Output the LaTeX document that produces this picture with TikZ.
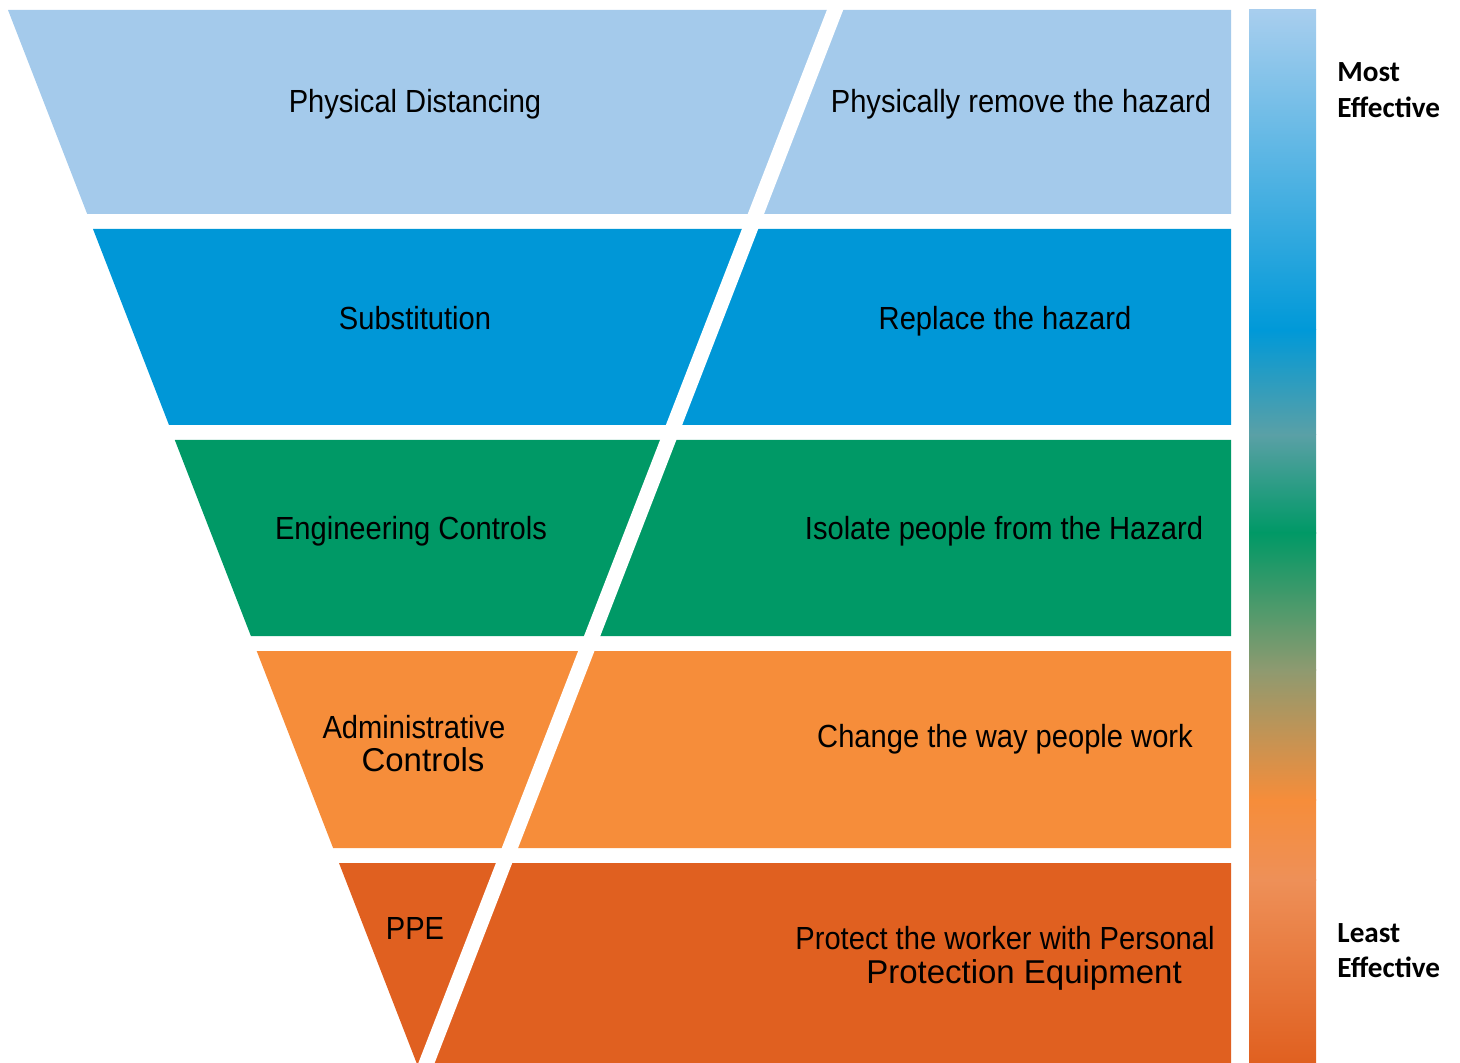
\documentclass[tikz,border=0pt]{standalone}
\usepackage{fontspec}
\setmainfont{Liberation Sans}
\newfontfamily\narrowf[FakeStretch=0.91]{Liberation Sans}
\newfontfamily\calib{Carlito}
\definecolor{cA}{HTML}{A4CAEB}
\definecolor{cB}{HTML}{0097D7}
\definecolor{cC}{HTML}{009966}
\definecolor{cD}{HTML}{F68D3A}
\definecolor{cE}{HTML}{E06020}
\definecolor{gA}{HTML}{A8CEEE}
\definecolor{gB}{HTML}{0099D8}
\definecolor{gT}{HTML}{5AA0A6}
\definecolor{gC}{HTML}{009966}
\definecolor{gO}{HTML}{8E9A70}
\definecolor{gD}{HTML}{F68D3A}
\definecolor{gL}{HTML}{EE9058}
\definecolor{gE}{HTML}{E06020}
\tikzset{
  lbl/.style={anchor=base, inner sep=0pt, text=black, font=\narrowf\fontsize{16}{19}\selectfont},
  lbltwo/.style={anchor=base, inner sep=0pt, text=black, font=\fontsize{16.5}{20}\selectfont},
  eff/.style={anchor=base west, inner sep=0pt, text=black, font=\calib\bfseries\fontsize{14.6}{17}\selectfont},
  gap/.style={white, line width=7.6pt}
}
\begin{document}
\begin{tikzpicture}[x=0.5pt,y=-0.5pt]
\useasboundingbox (0,0) rectangle (1460,1063);
% bands
\fill[cA] (8,10) -- (1231,10) -- (1231,214) -- (87.2,214) -- cycle;
\fill[cB] (93.0,229) -- (1231,229) -- (1231,425) -- (169.0,425) -- cycle;
\fill[cC] (174.8,440) -- (1231,440) -- (1231,636) -- (250.9,636) -- cycle;
\fill[cD] (256.7,651) -- (1231,651) -- (1231,848) -- (333.1,848) -- cycle;
\fill[cE] (339.0,863) -- (1231,863) -- (1231,1063) -- (416.6,1063) -- cycle;
% diagonal white gap
\draw[gap] (838.9,0) -- (422.6,1073);
% gradient bar
\shade[top color=gA, bottom color=gB] (1249,10) rectangle (1316,330);
\shade[top color=gB, bottom color=gT] (1249,329.5) rectangle (1316,435);
\shade[top color=gT, bottom color=gC] (1249,434.5) rectangle (1316,533);
\shade[top color=gC, bottom color=gO] (1249,532.5) rectangle (1316,670);
\shade[top color=gO, bottom color=gD] (1249,669.5) rectangle (1316,800);
\shade[top color=gD, bottom color=gL] (1249,799.5) rectangle (1316,880);
\shade[top color=gL, bottom color=gE] (1249,879.5) rectangle (1316,1063);
% labels
\node[lbl] (pd) at (415,113) {Physical Distancing};
\node[lbl] (pr) at (1021,113) {Physically remove the hazard};
\node[lbl] (su) at (415,330) {Substitution};
\node[lbl] (rh) at (1005,330) {Replace the hazard};
\node[lbl] (ec) at (411,539) {Engineering Controls};
\node[lbl] (ip) at (1004,539) {Isolate people from the Hazard};
\node[lbl] (ad) at (414,738) {Administrative};
\node[lbltwo] (ad2) at (423,771) {Controls};
\node[lbl] (cw) at (1005,747) {Change the way people work};
\node[lbl] (ppe) at (415,939) {PPE};
\node[lbl] (pw) at (1005,949) {Protect the worker with Personal};
\node[lbltwo] (pw2) at (1024,983) {Protection Equipment};
\node[eff] (m1) at (1337,82) {Most};
\node[eff] (m2) at (1337,118) {Effective};
\node[eff] (l1) at (1337,942) {Least};
\node[eff] (l2) at (1337,977) {Effective};
\end{tikzpicture}
\end{document}
